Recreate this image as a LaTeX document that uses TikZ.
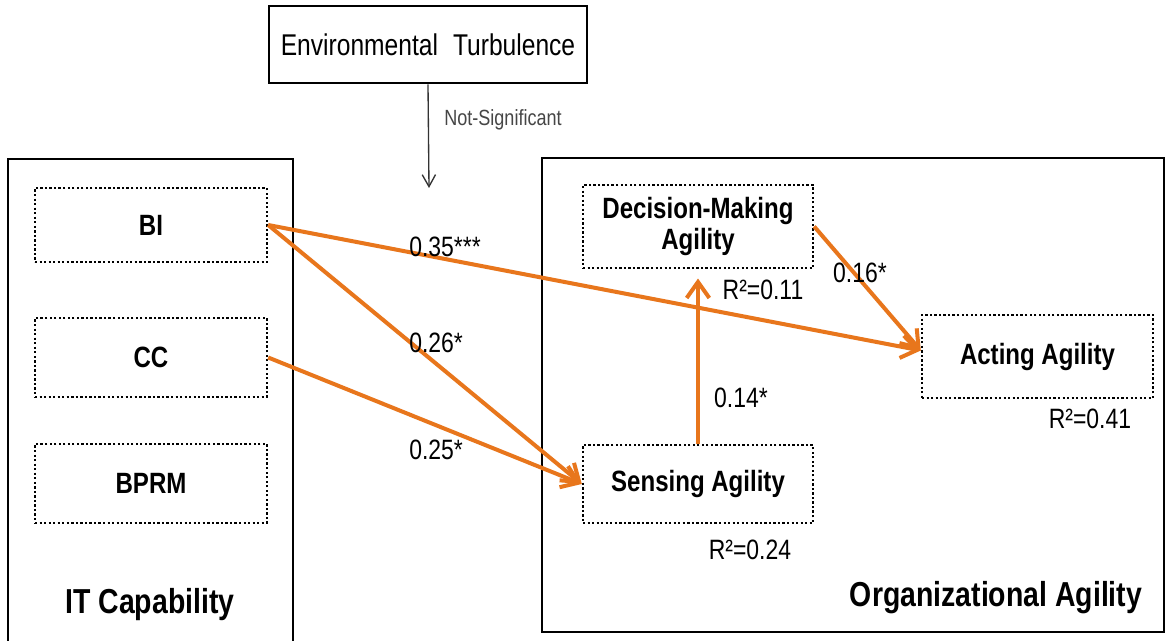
\documentclass[tikz,border=0pt]{standalone}
\usepackage{fontspec}
\setmainfont[FakeStretch=0.82]{Liberation Sans}
\usetikzlibrary{arrows.meta}
\definecolor{pathorange}{RGB}{232,118,28}
\definecolor{notegray}{RGB}{70,70,70}
\begin{document}
\begin{tikzpicture}[x=0.75pt,y=-0.75pt,
  frame/.style={draw=black, line width=2.1pt},
  itembox/.style={draw=black, line width=1.8pt, dash pattern=on 1.7pt off 1.7pt,
    align=center, inner sep=0pt, font=\fontsize{22pt}{23pt}\selectfont\bfseries},
  grouptitle/.style={font=\fontsize{26pt}{28pt}\selectfont\bfseries, inner sep=0pt},
  coef/.style={font=\fontsize{21pt}{23pt}\selectfont, inner sep=0pt},
  path/.style={draw=pathorange, line width=3pt,
    -{Straight Barb[length=12pt,width=17pt,line width=3pt]}},
  moderator/.style={draw=black!80, line width=1pt,
    -{Straight Barb[length=9pt,width=10pt,line width=1pt]}}
]
\clip (0,0) rectangle (1168,641);
\fill[white] (0,0) rectangle (1168,641);

% moderator
\node[frame, minimum width=238.5pt, minimum height=57.75pt, inner sep=0pt,
  font=\fontsize{22.5pt}{24pt}\selectfont] (et) at (428,44.5)
  {Environmental\hspace{0.5em}Turbulence};
\coordinate (etend) at (429,188);
\draw[moderator] (et.south) -- (etend);
\node[font=\fontsize{16.5pt}{18pt}\selectfont, text=notegray, inner sep=0pt]
  (ns) at (503,120) {Not-Significant};

% IT capability group (runs past the lower edge)
\coordinate (itbl) at (8,660);
\coordinate (ittl) at (8,159);
\coordinate (ittr) at (293,159);
\coordinate (itbr) at (293,660);
\draw[frame] (itbl) -- (ittl) -- (ittr) -- (itbr);
\node[itembox, minimum width=174pt, minimum height=55.5pt] (bi) at (151,225) {BI};
\node[itembox, minimum width=174pt, minimum height=59pt] (cc) at (151,357.5) {CC};
\node[itembox, minimum width=174pt, minimum height=59pt] (bprm) at (151,483.5) {BPRM};
\node[grouptitle] (itcap) at (150,605) {IT Capability};

% organizational agility group
\node[frame, minimum width=466.5pt, minimum height=355.5pt, inner sep=0pt] (oa) at (853,395) {};
\node[itembox, minimum width=172.5pt, minimum height=62.25pt] (dm) at (698,226.5)
  {Decision-Making\\Agility};
\node[itembox, minimum width=173.25pt, minimum height=62.25pt] (act) at (1037.5,356.5)
  {Acting Agility};
\node[itembox, minimum width=172.5pt, minimum height=58.5pt] (sens) at (698,484)
  {Sensing Agility};
\node[grouptitle] (oatitle) at (996,598) {Organizational Agility};

% structural paths
\coordinate (actin) at ([yshift=4.5pt]act.west);
\draw[path] (bi.east) -- (actin);
\draw[path] (bi.east) -- (sens.west);
\draw[path] (cc.east) -- (sens.west);
\draw[path, shorten >=7pt] (sens.north) -- (dm.south);
\draw[path] (dm.east) -- (actin);

% coefficients and explained variance
\node[coef, anchor=west] (c35) at (409,247) {0.35***};
\node[coef, anchor=west] (c26) at (409,343) {0.26*};
\node[coef, anchor=west] (c25) at (409,450) {0.25*};
\node[coef] (c16) at (860,273) {0.16*};
\node[coef] (c14) at (741,398) {0.14*};
\node[coef] (r11) at (763,290) {R²=0.11};
\node[coef] (r41) at (1090,419) {R²=0.41};
\node[coef] (r24) at (750,550) {R²=0.24};
\end{tikzpicture}
\end{document}
